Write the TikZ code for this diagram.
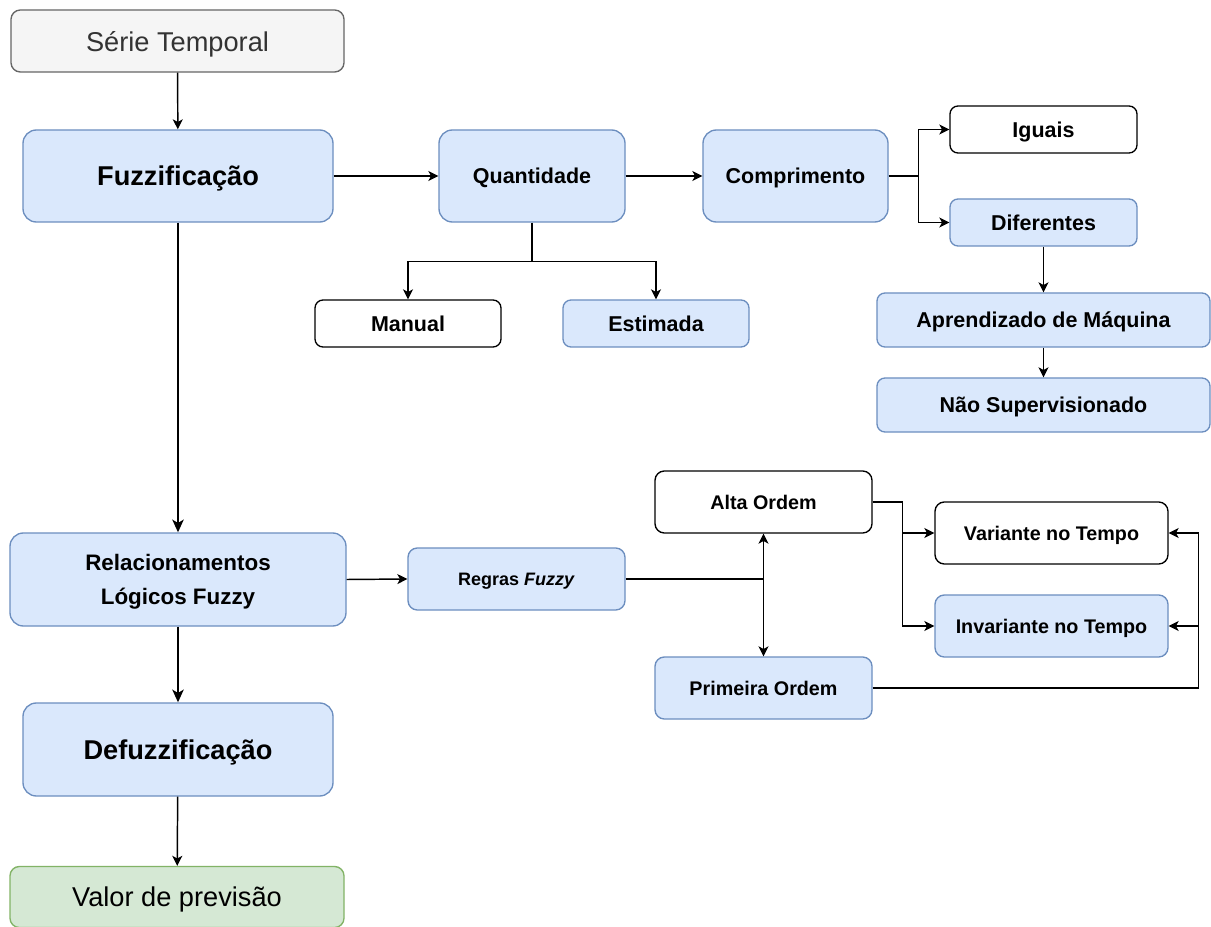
\documentclass[tikz,border=0pt]{standalone}
\usepackage{fontspec}
\setmainfont{Liberation Sans}
\usetikzlibrary{arrows.meta}
\definecolor{bluefill}{HTML}{DAE8FC}
\definecolor{blueline}{HTML}{6C8EBF}
\definecolor{greyfill}{HTML}{F5F5F5}
\definecolor{greyline}{HTML}{666666}
\definecolor{greytext}{HTML}{333333}
\definecolor{greenfill}{HTML}{D5E8D4}
\definecolor{greenline}{HTML}{82B366}
\tikzset{
  box/.style={draw,line width=1pt,rounded corners=#1,inner sep=0pt,align=center,text depth=0pt},
  box/.default=8pt,
  bluebox/.style={box=#1,fill=bluefill,draw=blueline},
  bluebox/.default=8pt,
  whitebox/.style={box=#1,fill=white,draw=black},
  whitebox/.default=8pt,
  bigtxt/.style={font=\fontsize{20.4}{25}\selectfont\bfseries},
  midtxt/.style={font=\fontsize{16.1}{19}\selectfont\bfseries},
  smalltxt/.style={font=\fontsize{14.8}{17}\selectfont\bfseries},
  conn/.style={line width=1.1pt,-{Stealth[length=7.5pt,width=7.5pt,inset=2pt]}},
  fat/.style={line width=2pt,-{Stealth[length=9.5pt,width=8.5pt,inset=2.5pt]}},
}
\begin{document}
\begin{tikzpicture}[x=0.75pt,y=-0.75pt]
\useasboundingbox (0,0) rectangle (1211,927);
% coluna principal
\node[box=7pt,fill=greyfill,draw=greyline,text=greytext,font=\fontsize{20.4}{25}\selectfont,
  minimum width=333*0.75pt,minimum height=62*0.75pt] (serie) at (177.5,41) {Série Temporal};
\node[bluebox=10pt,bigtxt,minimum width=310*0.75pt,minimum height=92*0.75pt] (fuzz) at (178,176) {Fuzzificação};
\node[bluebox=10pt,font=\fontsize{16.8}{25.5}\selectfont\bfseries,minimum width=336*0.75pt,minimum height=93*0.75pt]
  (relac) at (178,579.5) {Relacionamentos\\Lógicos Fuzzy};
\node[bluebox=10pt,bigtxt,minimum width=310*0.75pt,minimum height=93*0.75pt] (defuzz) at (178,749.5) {Defuzzificação};
\node[box=7pt,fill=greenfill,draw=greenline,font=\fontsize{20.4}{25}\selectfont,
  minimum width=334*0.75pt,minimum height=61*0.75pt] (valor) at (177,897) {Valor de previsão};
% fuzzificacao
\node[bluebox=10pt,midtxt,minimum width=186*0.75pt,minimum height=92*0.75pt] (quant) at (532,176) {Quantidade};
\node[bluebox=10pt,midtxt,minimum width=185*0.75pt,minimum height=92*0.75pt] (compr) at (795.5,176) {Comprimento};
\node[whitebox=6pt,midtxt,minimum width=187*0.75pt,minimum height=47*0.75pt] (iguais) at (1043.5,129.5) {Iguais};
\node[bluebox=6pt,midtxt,minimum width=187*0.75pt,minimum height=47*0.75pt] (difer) at (1043.5,222.5) {Diferentes};
\node[whitebox=6pt,midtxt,minimum width=186*0.75pt,minimum height=47*0.75pt] (manual) at (408,323.5) {Manual};
\node[bluebox=6pt,midtxt,minimum width=186*0.75pt,minimum height=47*0.75pt] (estim) at (656,323.5) {Estimada};
\node[bluebox=6pt,midtxt,minimum width=333*0.75pt,minimum height=54*0.75pt] (aprend) at (1043.5,320) {Aprendizado de Máquina};
\node[bluebox=6pt,midtxt,minimum width=333*0.75pt,minimum height=54*0.75pt] (naosup) at (1043.5,405) {Não Supervisionado};
% regras
\node[bluebox=7pt,font=\fontsize{13.5}{17}\selectfont\bfseries,minimum width=217*0.75pt,minimum height=62*0.75pt]
  (regras) at (516.5,579) {Regras \textit{Fuzzy}};
\node[whitebox=7pt,smalltxt,minimum width=217*0.75pt,minimum height=62*0.75pt] (alta) at (763.5,502) {Alta Ordem};
\node[bluebox=7pt,smalltxt,minimum width=217*0.75pt,minimum height=62*0.75pt] (primeira) at (763.5,688) {Primeira Ordem};
\node[whitebox=7pt,smalltxt,minimum width=233*0.75pt,minimum height=62*0.75pt] (variante) at (1051.5,533) {Variante no Tempo};
\node[bluebox=7pt,smalltxt,minimum width=233*0.75pt,minimum height=62*0.75pt] (invariante) at (1051.5,626) {Invariante no Tempo};
% conexoes
\draw[conn] (serie) -- (fuzz);
\draw[fat] (fuzz) -- (relac);
\draw[fat] (relac) -- (defuzz);
\draw[conn] (defuzz) -- (valor);
\draw[conn] (fuzz) -- (quant);
\draw[conn] (quant) -- (compr);
\draw[conn] (quant.south) -- ++(0,39) coordinate (jq) -| (manual.north);
\draw[conn] (jq) -| (estim.north);
\draw[line width=1.1pt] (compr.east) -- ++(30,0) coordinate (jc);
\draw[conn] (jc) |- (iguais.west);
\draw[conn] (jc) |- (difer.west);
\draw[conn] (difer) -- (aprend);
\draw[conn] (aprend) -- (naosup);
\draw[conn] (relac.east) -- (regras.west);
\draw[line width=1.1pt] (regras.east) -- (alta.south |- regras.east);
\draw[line width=1.1pt,{Stealth[length=7.5pt,width=7.5pt,inset=2pt]}-{Stealth[length=7.5pt,width=7.5pt,inset=2pt]}]
  (alta.south) -- (primeira.north);
\draw[line width=1.1pt] (alta.east) -- ++(30,0) coordinate (ja);
\draw[conn] (ja) |- (variante.west);
\draw[conn] (ja) |- (invariante.west);
\draw[line width=1.1pt] (primeira.east) -- ++(326,0) coordinate (jp);
\draw[conn] (jp) |- (variante.east);
\draw[conn] (jp) |- (invariante.east);
\end{tikzpicture}
\end{document}
